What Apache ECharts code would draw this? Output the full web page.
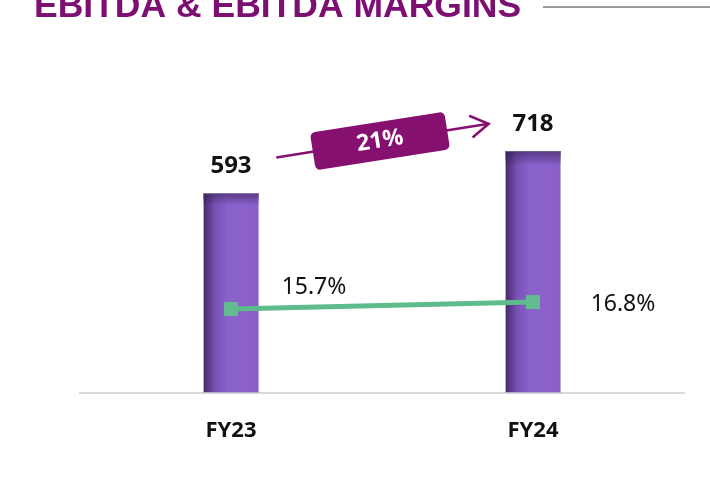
<!DOCTYPE html>
<html>
<head>
<meta charset="utf-8">
<script src="https://cdn.jsdelivr.net/npm/echarts@6/dist/echarts.min.js"></script>
<style>
  html, body { margin: 0; padding: 0; background: #fff; }
  #chart { width: 710px; height: 495px; }
</style>
</head>
<body>
<div id="chart"></div>
<script>
// data
const categories = ['FY23', 'FY24'];
const ebitda = [593, 718];
const margins = [15.7, 16.8];
const growthLabel = '21%';

const chart = echarts.init(document.getElementById('chart'));

const barColor = new echarts.graphic.LinearGradient(0, 0, 1, 0, [
  { offset: 0, color: '#432a66' },
  { offset: 0.22, color: '#7a52b6' },
  { offset: 0.45, color: '#8b61cc' },
  { offset: 1, color: '#8a5fc8' }
]);
// dark shade along the top of each bar
const topShade = new echarts.graphic.LinearGradient(0, 0, 0, 1, [
  { offset: 0, color: 'rgba(45,25,75,0.55)' },
  { offset: 0.06, color: 'rgba(45,25,75,0)' },
  { offset: 1, color: 'rgba(45,25,75,0)' }
]);

const valueFont = 'Noto Sans, sans-serif';

chart.setOption({
  backgroundColor: '#fff',
  animation: false,
  grid: { left: 80, right: 26, top: 56, bottom: 102 },
  xAxis: {
    type: 'category',
    data: categories,
    axisTick: { show: false },
    axisLine: { lineStyle: { color: '#d9d9d9', width: 2 } },
    axisLabel: {
      margin: 27,
      fontSize: 22,
      fontWeight: 'bold',
      color: '#111',
      fontFamily: valueFont
    }
  },
  yAxis: [
    { type: 'value', min: 0, max: 1000, show: false },
    { type: 'value', min: 2.5, max: 55.5, show: false }
  ],
  series: [
    {
      type: 'bar',
      data: ebitda,
      barWidth: 56,
      itemStyle: { color: barColor, borderColor: '#b9a9d6', borderWidth: 1 },
      label: {
        show: true,
        position: 'top',
        distance: 15,
        fontSize: 24,
        fontWeight: 'bold',
        color: '#111',
        fontFamily: valueFont
      }
    },
    {
      type: 'bar',
      data: ebitda,
      barWidth: 56,
      barGap: '-100%',
      silent: true,
      itemStyle: { color: topShade }
    },
    {
      type: 'line',
      yAxisIndex: 1,
      data: margins,
      symbol: 'rect',
      symbolSize: 14,
      lineStyle: { color: '#5dbb8c', width: 5 },
      itemStyle: { color: '#63bc90' },
      label: {
        show: true,
        fontSize: 23,
        color: '#111',
        fontFamily: valueFont,
        formatter: p => p.value.toFixed(1) + '%'
      },
      labelLayout: p => p.dataIndex === 0
        ? { dx: 83, dy: 2 }
        : { dx: 90, dy: 26 }
    }
  ],
  graphic: [
    {
      type: 'text',
      left: 34,
      top: -11,
      style: {
        text: 'EBITDA & EBITDA MARGINS',
        fontSize: 35.5,
        fontWeight: 'bold',
        fill: '#7d0f72',
        fontFamily: 'Liberation Sans, Arial, sans-serif'
      }
    },
    {
      type: 'line',
      shape: { x1: 543, y1: 7, x2: 710, y2: 7 },
      style: { stroke: '#9a9a9a', lineWidth: 2 }
    },
    {
      type: 'group',
      x: 380,
      y: 141,
      rotation: 9 * Math.PI / 180,
      children: [
        {
          type: 'line',
          shape: { x1: -105, y1: 0, x2: 110, y2: 0 },
          style: { stroke: '#86106f', lineWidth: 2.5 }
        },
        {
          type: 'polyline',
          shape: { points: [[92, -11], [110, 0], [92, 11]] },
          style: { stroke: '#86106f', lineWidth: 2.5, fill: null }
        },
        {
          type: 'rect',
          shape: { x: -68, y: -19, width: 136, height: 38, r: 5 },
          style: { fill: '#86106f' }
        },
        {
          type: 'text',
          x: 0,
          y: 0,
          style: {
            text: growthLabel,
            fill: '#fff',
            fontSize: 23,
            fontWeight: 'bold',
            fontFamily: valueFont,
            textAlign: 'center',
            textVerticalAlign: 'middle'
          }
        }
      ]
    }
  ]
});
</script>
</body>
</html>
